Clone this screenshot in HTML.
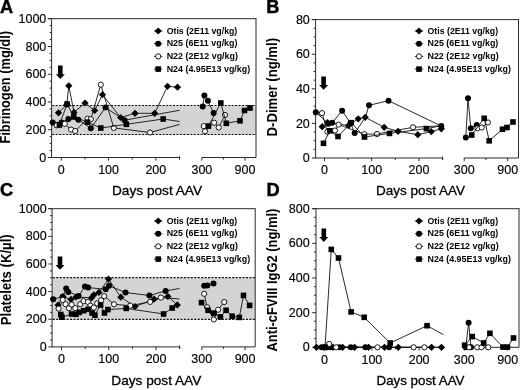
<!DOCTYPE html>
<html><head><meta charset="utf-8"><style>
html,body{margin:0;padding:0;background:#fff;overflow:hidden;width:520px;height:390px;}
svg{display:block;filter:blur(0.3px);font-family:"Liberation Sans", sans-serif;}
</style></head><body>
<svg width="520" height="390" viewBox="0 0 520 390">
<rect width="520" height="390" fill="#fff"/>
<rect x="51.60" y="105.50" width="204.40" height="29.00" fill="#d4d4d4"/>
<line x1="51.60" y1="105.50" x2="256.00" y2="105.50" stroke="#111" stroke-width="1.2" stroke-dasharray="2.1,1.35" stroke-dashoffset="2.8"/>
<line x1="51.60" y1="134.50" x2="256.00" y2="134.50" stroke="#111" stroke-width="1.2" stroke-dasharray="2.1,1.35" stroke-dashoffset="2.8"/>
<line x1="47.80" y1="18.70" x2="256.50" y2="18.70" stroke="#2a2a2a" stroke-width="1" />
<line x1="256.00" y1="18.70" x2="256.00" y2="157.50" stroke="#2a2a2a" stroke-width="1" />
<line x1="51.60" y1="18.70" x2="51.60" y2="158.00" stroke="#2a2a2a" stroke-width="1" />
<line x1="47.80" y1="157.50" x2="51.60" y2="157.50" stroke="#2a2a2a" stroke-width="1" />
<text x="46.30" y="161.60" font-size="12.5" text-anchor="end" font-weight="normal" stroke="#000" stroke-width="0.15">0</text>
<line x1="49.60" y1="150.56" x2="51.60" y2="150.56" stroke="#2a2a2a" stroke-width="1" />
<line x1="49.60" y1="143.62" x2="51.60" y2="143.62" stroke="#2a2a2a" stroke-width="1" />
<line x1="49.60" y1="136.68" x2="51.60" y2="136.68" stroke="#2a2a2a" stroke-width="1" />
<line x1="47.80" y1="129.74" x2="51.60" y2="129.74" stroke="#2a2a2a" stroke-width="1" />
<text x="46.30" y="133.84" font-size="12.5" text-anchor="end" font-weight="normal" stroke="#000" stroke-width="0.15">200</text>
<line x1="49.60" y1="122.80" x2="51.60" y2="122.80" stroke="#2a2a2a" stroke-width="1" />
<line x1="49.60" y1="115.86" x2="51.60" y2="115.86" stroke="#2a2a2a" stroke-width="1" />
<line x1="49.60" y1="108.92" x2="51.60" y2="108.92" stroke="#2a2a2a" stroke-width="1" />
<line x1="47.80" y1="101.98" x2="51.60" y2="101.98" stroke="#2a2a2a" stroke-width="1" />
<text x="46.30" y="106.08" font-size="12.5" text-anchor="end" font-weight="normal" stroke="#000" stroke-width="0.15">400</text>
<line x1="49.60" y1="95.04" x2="51.60" y2="95.04" stroke="#2a2a2a" stroke-width="1" />
<line x1="49.60" y1="88.10" x2="51.60" y2="88.10" stroke="#2a2a2a" stroke-width="1" />
<line x1="49.60" y1="81.16" x2="51.60" y2="81.16" stroke="#2a2a2a" stroke-width="1" />
<line x1="47.80" y1="74.22" x2="51.60" y2="74.22" stroke="#2a2a2a" stroke-width="1" />
<text x="46.30" y="78.32" font-size="12.5" text-anchor="end" font-weight="normal" stroke="#000" stroke-width="0.15">600</text>
<line x1="49.60" y1="67.28" x2="51.60" y2="67.28" stroke="#2a2a2a" stroke-width="1" />
<line x1="49.60" y1="60.34" x2="51.60" y2="60.34" stroke="#2a2a2a" stroke-width="1" />
<line x1="49.60" y1="53.40" x2="51.60" y2="53.40" stroke="#2a2a2a" stroke-width="1" />
<line x1="47.80" y1="46.46" x2="51.60" y2="46.46" stroke="#2a2a2a" stroke-width="1" />
<text x="46.30" y="50.56" font-size="12.5" text-anchor="end" font-weight="normal" stroke="#000" stroke-width="0.15">800</text>
<line x1="49.60" y1="39.52" x2="51.60" y2="39.52" stroke="#2a2a2a" stroke-width="1" />
<line x1="49.60" y1="32.58" x2="51.60" y2="32.58" stroke="#2a2a2a" stroke-width="1" />
<line x1="49.60" y1="25.64" x2="51.60" y2="25.64" stroke="#2a2a2a" stroke-width="1" />
<line x1="47.80" y1="18.70" x2="51.60" y2="18.70" stroke="#2a2a2a" stroke-width="1" />
<text x="46.30" y="22.80" font-size="12.5" text-anchor="end" font-weight="normal" stroke="#000" stroke-width="0.15">1000</text>
<line x1="51.60" y1="157.50" x2="179.60" y2="157.50" stroke="#2a2a2a" stroke-width="1" />
<line x1="201.90" y1="157.50" x2="256.00" y2="157.50" stroke="#2a2a2a" stroke-width="1" />
<line x1="61.30" y1="157.50" x2="61.30" y2="160.70" stroke="#2a2a2a" stroke-width="1" />
<text x="61.30" y="173.90" font-size="12.5" text-anchor="middle" font-weight="normal" stroke="#000" stroke-width="0.15">0</text>
<line x1="84.94" y1="157.50" x2="84.94" y2="159.50" stroke="#2a2a2a" stroke-width="1" />
<line x1="108.58" y1="157.50" x2="108.58" y2="160.70" stroke="#2a2a2a" stroke-width="1" />
<text x="108.58" y="173.90" font-size="12.5" text-anchor="middle" font-weight="normal" stroke="#000" stroke-width="0.15">100</text>
<line x1="132.22" y1="157.50" x2="132.22" y2="159.50" stroke="#2a2a2a" stroke-width="1" />
<line x1="155.86" y1="157.50" x2="155.86" y2="160.70" stroke="#2a2a2a" stroke-width="1" />
<text x="155.86" y="173.90" font-size="12.5" text-anchor="middle" font-weight="normal" stroke="#000" stroke-width="0.15">200</text>
<line x1="179.50" y1="157.50" x2="179.50" y2="159.50" stroke="#2a2a2a" stroke-width="1" />
<line x1="179.60" y1="156.10" x2="179.60" y2="159.50" stroke="#2a2a2a" stroke-width="1" />
<line x1="201.90" y1="157.50" x2="201.90" y2="160.70" stroke="#2a2a2a" stroke-width="1" />
<text x="201.90" y="173.90" font-size="12.5" text-anchor="middle" font-weight="normal" stroke="#000" stroke-width="0.15">300</text>
<line x1="223.45" y1="157.50" x2="223.45" y2="159.50" stroke="#2a2a2a" stroke-width="1" />
<line x1="245.00" y1="157.50" x2="245.00" y2="160.70" stroke="#2a2a2a" stroke-width="1" />
<text x="245.00" y="173.90" font-size="12.5" text-anchor="middle" font-weight="normal" stroke="#000" stroke-width="0.15">900</text>
<text x="112.00" y="194.90" font-size="13.5" text-anchor="start" font-weight="normal" textLength="90" lengthAdjust="spacingAndGlyphs" stroke="#000" stroke-width="0.3">Days post AAV</text>
<text transform="translate(10.30,143.60) rotate(-90)" font-size="14" font-weight="bold" textLength="112.60" lengthAdjust="spacingAndGlyphs">Fibrinogen (mg/dl)</text>
<text x="0.00" y="12.70" font-size="18.2" text-anchor="start" font-weight="bold" stroke="#000" stroke-width="0.45">A</text>
<path d="M58.00,65.60 h4.6 v8.6 h2.2 l-4.5,4.8 l-4.5,-4.8 h2.2 z" fill="#000"/>
<line x1="154.00" y1="31.00" x2="162.40" y2="31.00" stroke="#000" stroke-width="0.8" />
<path d="M158.20,27.40 L161.80,31.00 L158.20,34.60 L154.60,31.00 Z" fill="#000"/>
<text x="166.70" y="33.50" font-size="9.8" text-anchor="start" font-weight="bold" textLength="70.6" lengthAdjust="spacingAndGlyphs">Otis (2E11 vg/kg)</text>
<line x1="154.00" y1="43.70" x2="162.40" y2="43.70" stroke="#000" stroke-width="0.8" />
<circle cx="158.20" cy="43.70" r="3.00" fill="#000"/>
<text x="166.70" y="46.20" font-size="9.8" text-anchor="start" font-weight="bold" textLength="70.8" lengthAdjust="spacingAndGlyphs">N25 (6E11 vg/kg)</text>
<line x1="154.00" y1="56.40" x2="162.40" y2="56.40" stroke="#000" stroke-width="0.8" />
<circle cx="158.20" cy="56.40" r="2.60" fill="#fff" stroke="#000" stroke-width="0.9"/>
<text x="166.70" y="58.90" font-size="9.8" text-anchor="start" font-weight="bold" textLength="71.2" lengthAdjust="spacingAndGlyphs">N22 (2E12 vg/kg)</text>
<line x1="154.00" y1="69.10" x2="162.40" y2="69.10" stroke="#000" stroke-width="0.8" />
<rect x="155.40" y="66.30" width="5.60" height="5.60" fill="#000"/>
<text x="166.70" y="71.60" font-size="9.8" text-anchor="start" font-weight="bold" textLength="83.4" lengthAdjust="spacingAndGlyphs">N24 (4.95E13 vg/kg)</text>
<polyline points="58.50,112.80 66.80,104.50 68.80,85.80 74.00,112.40 85.00,103.00 94.70,110.50 102.50,94.70 120.60,117.50 135.00,113.30 154.70,113.30 167.50,86.30 177.50,87.20" fill="none" stroke="#111" stroke-width="0.9"/>
<path d="M58.50,109.20 L62.10,112.80 L58.50,116.40 L54.90,112.80 Z" fill="#000"/>
<path d="M66.80,100.90 L70.40,104.50 L66.80,108.10 L63.20,104.50 Z" fill="#000"/>
<path d="M68.80,82.20 L72.40,85.80 L68.80,89.40 L65.20,85.80 Z" fill="#000"/>
<path d="M74.00,108.80 L77.60,112.40 L74.00,116.00 L70.40,112.40 Z" fill="#000"/>
<path d="M85.00,99.40 L88.60,103.00 L85.00,106.60 L81.40,103.00 Z" fill="#000"/>
<path d="M94.70,106.90 L98.30,110.50 L94.70,114.10 L91.10,110.50 Z" fill="#000"/>
<path d="M102.50,91.10 L106.10,94.70 L102.50,98.30 L98.90,94.70 Z" fill="#000"/>
<path d="M120.60,113.90 L124.20,117.50 L120.60,121.10 L117.00,117.50 Z" fill="#000"/>
<path d="M135.00,109.70 L138.60,113.30 L135.00,116.90 L131.40,113.30 Z" fill="#000"/>
<path d="M154.70,109.70 L158.30,113.30 L154.70,116.90 L151.10,113.30 Z" fill="#000"/>
<path d="M167.50,82.70 L171.10,86.30 L167.50,89.90 L163.90,86.30 Z" fill="#000"/>
<path d="M177.50,83.60 L181.10,87.20 L177.50,90.80 L173.90,87.20 Z" fill="#000"/>
<polyline points="52.70,122.50 61.50,122.50 68.40,118.90 78.30,119.70 90.80,128.30 105.50,107.50 124.60,120.20 179.60,110.30" fill="none" stroke="#111" stroke-width="0.9"/>
<polyline points="202.70,106.50 204.40,95.60 207.90,100.80 213.60,112.90" fill="none" stroke="#111" stroke-width="0.9"/>
<circle cx="52.70" cy="122.50" r="3.00" fill="#000"/>
<circle cx="61.50" cy="122.50" r="3.00" fill="#000"/>
<circle cx="68.40" cy="118.90" r="3.00" fill="#000"/>
<circle cx="78.30" cy="119.70" r="3.00" fill="#000"/>
<circle cx="90.80" cy="128.30" r="3.00" fill="#000"/>
<circle cx="105.50" cy="107.50" r="3.00" fill="#000"/>
<circle cx="124.60" cy="120.20" r="3.00" fill="#000"/>
<circle cx="202.70" cy="106.50" r="3.00" fill="#000"/>
<circle cx="204.40" cy="95.60" r="3.00" fill="#000"/>
<circle cx="207.90" cy="100.80" r="3.00" fill="#000"/>
<circle cx="213.60" cy="112.90" r="3.00" fill="#000"/>
<polyline points="56.70,125.30 64.80,123.80 71.10,129.60 75.20,131.00 87.50,118.70 90.80,119.20 100.80,84.70 113.80,127.90 150.00,132.50 179.60,124.40" fill="none" stroke="#111" stroke-width="0.9"/>
<polyline points="203.80,126.10 205.00,131.30 214.20,122.70 218.70,127.50 225.00,115.00" fill="none" stroke="#111" stroke-width="0.9"/>
<circle cx="56.70" cy="125.30" r="2.60" fill="#fff" stroke="#000" stroke-width="0.9"/>
<circle cx="64.80" cy="123.80" r="2.60" fill="#fff" stroke="#000" stroke-width="0.9"/>
<circle cx="71.10" cy="129.60" r="2.60" fill="#fff" stroke="#000" stroke-width="0.9"/>
<circle cx="75.20" cy="131.00" r="2.60" fill="#fff" stroke="#000" stroke-width="0.9"/>
<circle cx="87.50" cy="118.70" r="2.60" fill="#fff" stroke="#000" stroke-width="0.9"/>
<circle cx="90.80" cy="119.20" r="2.60" fill="#fff" stroke="#000" stroke-width="0.9"/>
<circle cx="100.80" cy="84.70" r="2.60" fill="#fff" stroke="#000" stroke-width="0.9"/>
<circle cx="113.80" cy="127.90" r="2.60" fill="#fff" stroke="#000" stroke-width="0.9"/>
<circle cx="150.00" cy="132.50" r="2.60" fill="#fff" stroke="#000" stroke-width="0.9"/>
<circle cx="203.80" cy="126.10" r="2.60" fill="#fff" stroke="#000" stroke-width="0.9"/>
<circle cx="205.00" cy="131.30" r="2.60" fill="#fff" stroke="#000" stroke-width="0.9"/>
<circle cx="214.20" cy="122.70" r="2.60" fill="#fff" stroke="#000" stroke-width="0.9"/>
<circle cx="218.70" cy="127.50" r="2.60" fill="#fff" stroke="#000" stroke-width="0.9"/>
<circle cx="225.00" cy="115.00" r="2.60" fill="#fff" stroke="#000" stroke-width="0.9"/>
<polyline points="59.40,125.00 67.10,104.00 73.80,116.60 87.50,122.20 100.80,128.00 126.40,124.30 163.20,119.00 179.60,121.50" fill="none" stroke="#111" stroke-width="0.9"/>
<polyline points="208.40,126.10 220.80,103.00 226.30,123.30 240.00,120.80 244.50,110.50 250.00,108.00" fill="none" stroke="#111" stroke-width="0.9"/>
<rect x="56.60" y="122.20" width="5.60" height="5.60" fill="#000"/>
<rect x="64.30" y="101.20" width="5.60" height="5.60" fill="#000"/>
<rect x="71.00" y="113.80" width="5.60" height="5.60" fill="#000"/>
<rect x="84.70" y="119.40" width="5.60" height="5.60" fill="#000"/>
<rect x="98.00" y="125.20" width="5.60" height="5.60" fill="#000"/>
<rect x="123.60" y="121.50" width="5.60" height="5.60" fill="#000"/>
<rect x="160.40" y="116.20" width="5.60" height="5.60" fill="#000"/>
<rect x="205.60" y="123.30" width="5.60" height="5.60" fill="#000"/>
<rect x="218.00" y="100.20" width="5.60" height="5.60" fill="#000"/>
<rect x="223.50" y="120.50" width="5.60" height="5.60" fill="#000"/>
<rect x="237.20" y="118.00" width="5.60" height="5.60" fill="#000"/>
<rect x="241.70" y="107.70" width="5.60" height="5.60" fill="#000"/>
<rect x="247.20" y="105.20" width="5.60" height="5.60" fill="#000"/>
<line x1="311.80" y1="19.60" x2="519.00" y2="19.60" stroke="#2a2a2a" stroke-width="1" />
<line x1="518.50" y1="19.60" x2="518.50" y2="158.00" stroke="#2a2a2a" stroke-width="1" />
<line x1="315.60" y1="19.60" x2="315.60" y2="158.50" stroke="#2a2a2a" stroke-width="1" />
<line x1="311.80" y1="158.00" x2="315.60" y2="158.00" stroke="#2a2a2a" stroke-width="1" />
<text x="309.80" y="162.10" font-size="12.5" text-anchor="end" font-weight="normal" stroke="#000" stroke-width="0.15">0</text>
<line x1="313.60" y1="149.35" x2="315.60" y2="149.35" stroke="#2a2a2a" stroke-width="1" />
<line x1="313.60" y1="140.70" x2="315.60" y2="140.70" stroke="#2a2a2a" stroke-width="1" />
<line x1="313.60" y1="132.05" x2="315.60" y2="132.05" stroke="#2a2a2a" stroke-width="1" />
<line x1="311.80" y1="123.40" x2="315.60" y2="123.40" stroke="#2a2a2a" stroke-width="1" />
<text x="309.80" y="127.50" font-size="12.5" text-anchor="end" font-weight="normal" stroke="#000" stroke-width="0.15">20</text>
<line x1="313.60" y1="114.75" x2="315.60" y2="114.75" stroke="#2a2a2a" stroke-width="1" />
<line x1="313.60" y1="106.10" x2="315.60" y2="106.10" stroke="#2a2a2a" stroke-width="1" />
<line x1="313.60" y1="97.45" x2="315.60" y2="97.45" stroke="#2a2a2a" stroke-width="1" />
<line x1="311.80" y1="88.80" x2="315.60" y2="88.80" stroke="#2a2a2a" stroke-width="1" />
<text x="309.80" y="92.90" font-size="12.5" text-anchor="end" font-weight="normal" stroke="#000" stroke-width="0.15">40</text>
<line x1="313.60" y1="80.15" x2="315.60" y2="80.15" stroke="#2a2a2a" stroke-width="1" />
<line x1="313.60" y1="71.50" x2="315.60" y2="71.50" stroke="#2a2a2a" stroke-width="1" />
<line x1="313.60" y1="62.85" x2="315.60" y2="62.85" stroke="#2a2a2a" stroke-width="1" />
<line x1="311.80" y1="54.20" x2="315.60" y2="54.20" stroke="#2a2a2a" stroke-width="1" />
<text x="309.80" y="58.30" font-size="12.5" text-anchor="end" font-weight="normal" stroke="#000" stroke-width="0.15">60</text>
<line x1="313.60" y1="45.55" x2="315.60" y2="45.55" stroke="#2a2a2a" stroke-width="1" />
<line x1="313.60" y1="36.90" x2="315.60" y2="36.90" stroke="#2a2a2a" stroke-width="1" />
<line x1="313.60" y1="28.25" x2="315.60" y2="28.25" stroke="#2a2a2a" stroke-width="1" />
<line x1="311.80" y1="19.60" x2="315.60" y2="19.60" stroke="#2a2a2a" stroke-width="1" />
<text x="309.80" y="23.70" font-size="12.5" text-anchor="end" font-weight="normal" stroke="#000" stroke-width="0.15">80</text>
<line x1="315.60" y1="158.00" x2="442.60" y2="158.00" stroke="#2a2a2a" stroke-width="1" />
<line x1="464.20" y1="158.00" x2="518.50" y2="158.00" stroke="#2a2a2a" stroke-width="1" />
<line x1="324.40" y1="158.00" x2="324.40" y2="161.20" stroke="#2a2a2a" stroke-width="1" />
<text x="324.40" y="174.40" font-size="12.5" text-anchor="middle" font-weight="normal" stroke="#000" stroke-width="0.15">0</text>
<line x1="348.04" y1="158.00" x2="348.04" y2="160.00" stroke="#2a2a2a" stroke-width="1" />
<line x1="371.68" y1="158.00" x2="371.68" y2="161.20" stroke="#2a2a2a" stroke-width="1" />
<text x="371.68" y="174.40" font-size="12.5" text-anchor="middle" font-weight="normal" stroke="#000" stroke-width="0.15">100</text>
<line x1="395.32" y1="158.00" x2="395.32" y2="160.00" stroke="#2a2a2a" stroke-width="1" />
<line x1="418.96" y1="158.00" x2="418.96" y2="161.20" stroke="#2a2a2a" stroke-width="1" />
<text x="418.96" y="174.40" font-size="12.5" text-anchor="middle" font-weight="normal" stroke="#000" stroke-width="0.15">200</text>
<line x1="442.60" y1="158.00" x2="442.60" y2="160.00" stroke="#2a2a2a" stroke-width="1" />
<line x1="442.60" y1="156.60" x2="442.60" y2="160.00" stroke="#2a2a2a" stroke-width="1" />
<line x1="464.20" y1="158.00" x2="464.20" y2="161.20" stroke="#2a2a2a" stroke-width="1" />
<text x="464.20" y="174.40" font-size="12.5" text-anchor="middle" font-weight="normal" stroke="#000" stroke-width="0.15">300</text>
<line x1="485.95" y1="158.00" x2="485.95" y2="160.00" stroke="#2a2a2a" stroke-width="1" />
<line x1="507.70" y1="158.00" x2="507.70" y2="161.20" stroke="#2a2a2a" stroke-width="1" />
<text x="507.70" y="174.40" font-size="12.5" text-anchor="middle" font-weight="normal" stroke="#000" stroke-width="0.15">900</text>
<text x="376.00" y="194.90" font-size="13.5" text-anchor="start" font-weight="normal" textLength="89" lengthAdjust="spacingAndGlyphs" stroke="#000" stroke-width="0.3">Days post AAV</text>
<text transform="translate(277.00,136.40) rotate(-90)" font-size="14" font-weight="bold" textLength="98.40" lengthAdjust="spacingAndGlyphs">D-Dimer (ng/ml)</text>
<text x="266.20" y="12.70" font-size="18.2" text-anchor="start" font-weight="bold" stroke="#000" stroke-width="0.45">B</text>
<path d="M321.30,76.40 h4.6 v8.6 h2.2 l-4.5,4.8 l-4.5,-4.8 h2.2 z" fill="#000"/>
<line x1="414.80" y1="31.00" x2="423.20" y2="31.00" stroke="#000" stroke-width="0.8" />
<path d="M419.00,27.40 L422.60,31.00 L419.00,34.60 L415.40,31.00 Z" fill="#000"/>
<text x="427.50" y="33.50" font-size="9.8" text-anchor="start" font-weight="bold" textLength="70.6" lengthAdjust="spacingAndGlyphs">Otis (2E11 vg/kg)</text>
<line x1="414.80" y1="43.70" x2="423.20" y2="43.70" stroke="#000" stroke-width="0.8" />
<circle cx="419.00" cy="43.70" r="3.00" fill="#000"/>
<text x="427.50" y="46.20" font-size="9.8" text-anchor="start" font-weight="bold" textLength="70.8" lengthAdjust="spacingAndGlyphs">N25 (6E11 vg/kg)</text>
<line x1="414.80" y1="56.40" x2="423.20" y2="56.40" stroke="#000" stroke-width="0.8" />
<circle cx="419.00" cy="56.40" r="2.60" fill="#fff" stroke="#000" stroke-width="0.9"/>
<text x="427.50" y="58.90" font-size="9.8" text-anchor="start" font-weight="bold" textLength="71.2" lengthAdjust="spacingAndGlyphs">N22 (2E12 vg/kg)</text>
<line x1="414.80" y1="69.10" x2="423.20" y2="69.10" stroke="#000" stroke-width="0.8" />
<rect x="416.20" y="66.30" width="5.60" height="5.60" fill="#000"/>
<text x="427.50" y="71.60" font-size="9.8" text-anchor="start" font-weight="bold" textLength="83.4" lengthAdjust="spacingAndGlyphs">N24 (4.95E13 vg/kg)</text>
<polyline points="322.20,126.70 327.50,122.50 348.60,125.50 358.20,118.80 365.20,117.30 384.20,127.30 398.10,131.30 417.80,134.70 431.30,131.60 441.30,128.80" fill="none" stroke="#111" stroke-width="0.9"/>
<path d="M322.20,123.10 L325.80,126.70 L322.20,130.30 L318.60,126.70 Z" fill="#000"/>
<path d="M327.50,118.90 L331.10,122.50 L327.50,126.10 L323.90,122.50 Z" fill="#000"/>
<path d="M348.60,121.90 L352.20,125.50 L348.60,129.10 L345.00,125.50 Z" fill="#000"/>
<path d="M358.20,115.20 L361.80,118.80 L358.20,122.40 L354.60,118.80 Z" fill="#000"/>
<path d="M365.20,113.70 L368.80,117.30 L365.20,120.90 L361.60,117.30 Z" fill="#000"/>
<path d="M384.20,123.70 L387.80,127.30 L384.20,130.90 L380.60,127.30 Z" fill="#000"/>
<path d="M398.10,127.70 L401.70,131.30 L398.10,134.90 L394.50,131.30 Z" fill="#000"/>
<path d="M417.80,131.10 L421.40,134.70 L417.80,138.30 L414.20,134.70 Z" fill="#000"/>
<path d="M431.30,128.00 L434.90,131.60 L431.30,135.20 L427.70,131.60 Z" fill="#000"/>
<path d="M441.30,125.20 L444.90,128.80 L441.30,132.40 L437.70,128.80 Z" fill="#000"/>
<polyline points="315.80,112.20 328.40,123.70 332.20,122.80 342.10,110.70 350.50,123.20 354.70,133.00 365.30,117.60 369.00,105.30 388.50,100.70 441.30,126.00" fill="none" stroke="#111" stroke-width="0.9"/>
<polyline points="465.80,137.50 468.00,98.30 470.80,128.30 476.70,125.00" fill="none" stroke="#111" stroke-width="0.9"/>
<circle cx="315.80" cy="112.20" r="3.00" fill="#000"/>
<circle cx="328.40" cy="123.70" r="3.00" fill="#000"/>
<circle cx="332.20" cy="122.80" r="3.00" fill="#000"/>
<circle cx="342.10" cy="110.70" r="3.00" fill="#000"/>
<circle cx="350.50" cy="123.20" r="3.00" fill="#000"/>
<circle cx="354.70" cy="133.00" r="3.00" fill="#000"/>
<circle cx="369.00" cy="105.30" r="3.00" fill="#000"/>
<circle cx="388.50" cy="100.70" r="3.00" fill="#000"/>
<circle cx="441.30" cy="126.00" r="3.00" fill="#000"/>
<circle cx="465.80" cy="137.50" r="3.00" fill="#000"/>
<circle cx="468.00" cy="98.30" r="3.00" fill="#000"/>
<circle cx="470.80" cy="128.30" r="3.00" fill="#000"/>
<circle cx="476.70" cy="125.00" r="3.00" fill="#000"/>
<polyline points="322.00,113.10 327.40,131.80 335.00,130.50 338.60,124.60 364.30,134.20 377.00,134.00 413.00,127.30 441.30,125.80" fill="none" stroke="#111" stroke-width="0.9"/>
<polyline points="477.50,128.30 481.70,127.50 488.00,122.50" fill="none" stroke="#111" stroke-width="0.9"/>
<circle cx="322.00" cy="113.10" r="2.60" fill="#fff" stroke="#000" stroke-width="0.9"/>
<circle cx="327.40" cy="131.80" r="2.60" fill="#fff" stroke="#000" stroke-width="0.9"/>
<circle cx="335.00" cy="130.50" r="2.60" fill="#fff" stroke="#000" stroke-width="0.9"/>
<circle cx="338.60" cy="124.60" r="2.60" fill="#fff" stroke="#000" stroke-width="0.9"/>
<circle cx="364.30" cy="134.20" r="2.60" fill="#fff" stroke="#000" stroke-width="0.9"/>
<circle cx="377.00" cy="134.00" r="2.60" fill="#fff" stroke="#000" stroke-width="0.9"/>
<circle cx="413.00" cy="127.30" r="2.60" fill="#fff" stroke="#000" stroke-width="0.9"/>
<circle cx="477.50" cy="128.30" r="2.60" fill="#fff" stroke="#000" stroke-width="0.9"/>
<circle cx="481.70" cy="127.50" r="2.60" fill="#fff" stroke="#000" stroke-width="0.9"/>
<circle cx="488.00" cy="122.50" r="2.60" fill="#fff" stroke="#000" stroke-width="0.9"/>
<polyline points="323.50,143.30 329.90,130.80 338.00,136.50 351.20,122.70 364.50,137.00 389.50,133.40 426.40,128.60 441.30,125.80" fill="none" stroke="#111" stroke-width="0.9"/>
<polyline points="471.70,135.00 484.20,118.30 489.20,140.80 502.50,129.20 507.00,127.50 513.00,122.00" fill="none" stroke="#111" stroke-width="0.9"/>
<rect x="320.70" y="140.50" width="5.60" height="5.60" fill="#000"/>
<rect x="327.10" y="128.00" width="5.60" height="5.60" fill="#000"/>
<rect x="335.20" y="133.70" width="5.60" height="5.60" fill="#000"/>
<rect x="348.40" y="119.90" width="5.60" height="5.60" fill="#000"/>
<rect x="361.70" y="134.20" width="5.60" height="5.60" fill="#000"/>
<rect x="386.70" y="130.60" width="5.60" height="5.60" fill="#000"/>
<rect x="423.60" y="125.80" width="5.60" height="5.60" fill="#000"/>
<rect x="468.90" y="132.20" width="5.60" height="5.60" fill="#000"/>
<rect x="481.40" y="115.50" width="5.60" height="5.60" fill="#000"/>
<rect x="486.40" y="138.00" width="5.60" height="5.60" fill="#000"/>
<rect x="499.70" y="126.40" width="5.60" height="5.60" fill="#000"/>
<rect x="504.20" y="124.70" width="5.60" height="5.60" fill="#000"/>
<rect x="510.20" y="119.20" width="5.60" height="5.60" fill="#000"/>
<rect x="52.10" y="277.60" width="203.10" height="41.80" fill="#d4d4d4"/>
<line x1="52.10" y1="277.60" x2="255.20" y2="277.60" stroke="#111" stroke-width="1.2" stroke-dasharray="2.1,1.35" stroke-dashoffset="2.8"/>
<line x1="52.10" y1="319.40" x2="255.20" y2="319.40" stroke="#111" stroke-width="1.2" stroke-dasharray="2.1,1.35" stroke-dashoffset="2.8"/>
<line x1="48.30" y1="208.70" x2="255.70" y2="208.70" stroke="#2a2a2a" stroke-width="1" />
<line x1="255.20" y1="208.70" x2="255.20" y2="346.90" stroke="#2a2a2a" stroke-width="1" />
<line x1="52.10" y1="208.70" x2="52.10" y2="347.40" stroke="#2a2a2a" stroke-width="1" />
<line x1="48.30" y1="346.90" x2="52.10" y2="346.90" stroke="#2a2a2a" stroke-width="1" />
<text x="46.60" y="351.00" font-size="12.5" text-anchor="end" font-weight="normal" stroke="#000" stroke-width="0.15">0</text>
<line x1="50.10" y1="339.99" x2="52.10" y2="339.99" stroke="#2a2a2a" stroke-width="1" />
<line x1="50.10" y1="333.08" x2="52.10" y2="333.08" stroke="#2a2a2a" stroke-width="1" />
<line x1="50.10" y1="326.17" x2="52.10" y2="326.17" stroke="#2a2a2a" stroke-width="1" />
<line x1="48.30" y1="319.26" x2="52.10" y2="319.26" stroke="#2a2a2a" stroke-width="1" />
<text x="46.60" y="323.36" font-size="12.5" text-anchor="end" font-weight="normal" stroke="#000" stroke-width="0.15">200</text>
<line x1="50.10" y1="312.35" x2="52.10" y2="312.35" stroke="#2a2a2a" stroke-width="1" />
<line x1="50.10" y1="305.44" x2="52.10" y2="305.44" stroke="#2a2a2a" stroke-width="1" />
<line x1="50.10" y1="298.53" x2="52.10" y2="298.53" stroke="#2a2a2a" stroke-width="1" />
<line x1="48.30" y1="291.62" x2="52.10" y2="291.62" stroke="#2a2a2a" stroke-width="1" />
<text x="46.60" y="295.72" font-size="12.5" text-anchor="end" font-weight="normal" stroke="#000" stroke-width="0.15">400</text>
<line x1="50.10" y1="284.71" x2="52.10" y2="284.71" stroke="#2a2a2a" stroke-width="1" />
<line x1="50.10" y1="277.80" x2="52.10" y2="277.80" stroke="#2a2a2a" stroke-width="1" />
<line x1="50.10" y1="270.89" x2="52.10" y2="270.89" stroke="#2a2a2a" stroke-width="1" />
<line x1="48.30" y1="263.98" x2="52.10" y2="263.98" stroke="#2a2a2a" stroke-width="1" />
<text x="46.60" y="268.08" font-size="12.5" text-anchor="end" font-weight="normal" stroke="#000" stroke-width="0.15">600</text>
<line x1="50.10" y1="257.07" x2="52.10" y2="257.07" stroke="#2a2a2a" stroke-width="1" />
<line x1="50.10" y1="250.16" x2="52.10" y2="250.16" stroke="#2a2a2a" stroke-width="1" />
<line x1="50.10" y1="243.25" x2="52.10" y2="243.25" stroke="#2a2a2a" stroke-width="1" />
<line x1="48.30" y1="236.34" x2="52.10" y2="236.34" stroke="#2a2a2a" stroke-width="1" />
<text x="46.60" y="240.44" font-size="12.5" text-anchor="end" font-weight="normal" stroke="#000" stroke-width="0.15">800</text>
<line x1="50.10" y1="229.43" x2="52.10" y2="229.43" stroke="#2a2a2a" stroke-width="1" />
<line x1="50.10" y1="222.52" x2="52.10" y2="222.52" stroke="#2a2a2a" stroke-width="1" />
<line x1="50.10" y1="215.61" x2="52.10" y2="215.61" stroke="#2a2a2a" stroke-width="1" />
<line x1="48.30" y1="208.70" x2="52.10" y2="208.70" stroke="#2a2a2a" stroke-width="1" />
<text x="46.60" y="212.80" font-size="12.5" text-anchor="end" font-weight="normal" stroke="#000" stroke-width="0.15">1000</text>
<line x1="52.10" y1="346.90" x2="179.50" y2="346.90" stroke="#2a2a2a" stroke-width="1" />
<line x1="201.80" y1="346.90" x2="255.20" y2="346.90" stroke="#2a2a2a" stroke-width="1" />
<line x1="61.50" y1="346.90" x2="61.50" y2="350.10" stroke="#2a2a2a" stroke-width="1" />
<text x="61.50" y="363.30" font-size="12.5" text-anchor="middle" font-weight="normal" stroke="#000" stroke-width="0.15">0</text>
<line x1="85.14" y1="346.90" x2="85.14" y2="348.90" stroke="#2a2a2a" stroke-width="1" />
<line x1="108.78" y1="346.90" x2="108.78" y2="350.10" stroke="#2a2a2a" stroke-width="1" />
<text x="108.78" y="363.30" font-size="12.5" text-anchor="middle" font-weight="normal" stroke="#000" stroke-width="0.15">100</text>
<line x1="132.42" y1="346.90" x2="132.42" y2="348.90" stroke="#2a2a2a" stroke-width="1" />
<line x1="156.06" y1="346.90" x2="156.06" y2="350.10" stroke="#2a2a2a" stroke-width="1" />
<text x="156.06" y="363.30" font-size="12.5" text-anchor="middle" font-weight="normal" stroke="#000" stroke-width="0.15">200</text>
<line x1="179.70" y1="346.90" x2="179.70" y2="348.90" stroke="#2a2a2a" stroke-width="1" />
<line x1="179.50" y1="345.50" x2="179.50" y2="348.90" stroke="#2a2a2a" stroke-width="1" />
<line x1="201.80" y1="346.90" x2="201.80" y2="350.10" stroke="#2a2a2a" stroke-width="1" />
<text x="201.80" y="363.30" font-size="12.5" text-anchor="middle" font-weight="normal" stroke="#000" stroke-width="0.15">300</text>
<line x1="223.45" y1="346.90" x2="223.45" y2="348.90" stroke="#2a2a2a" stroke-width="1" />
<line x1="245.10" y1="346.90" x2="245.10" y2="350.10" stroke="#2a2a2a" stroke-width="1" />
<text x="245.10" y="363.30" font-size="12.5" text-anchor="middle" font-weight="normal" stroke="#000" stroke-width="0.15">900</text>
<text x="111.30" y="385.10" font-size="13.5" text-anchor="start" font-weight="normal" textLength="90" lengthAdjust="spacingAndGlyphs" stroke="#000" stroke-width="0.3">Days post AAV</text>
<text transform="translate(10.50,325.20) rotate(-90)" font-size="14" font-weight="bold" textLength="90.90" lengthAdjust="spacingAndGlyphs">Platelets (K/µl)</text>
<text x="0.00" y="195.60" font-size="18.2" text-anchor="start" font-weight="bold" stroke="#000" stroke-width="0.45">C</text>
<path d="M57.70,256.40 h4.6 v8.6 h2.2 l-4.5,4.8 l-4.5,-4.8 h2.2 z" fill="#000"/>
<line x1="154.00" y1="221.00" x2="162.40" y2="221.00" stroke="#000" stroke-width="0.8" />
<path d="M158.20,217.40 L161.80,221.00 L158.20,224.60 L154.60,221.00 Z" fill="#000"/>
<text x="166.70" y="223.50" font-size="9.8" text-anchor="start" font-weight="bold" textLength="70.6" lengthAdjust="spacingAndGlyphs">Otis (2E11 vg/kg)</text>
<line x1="154.00" y1="233.70" x2="162.40" y2="233.70" stroke="#000" stroke-width="0.8" />
<circle cx="158.20" cy="233.70" r="3.00" fill="#000"/>
<text x="166.70" y="236.20" font-size="9.8" text-anchor="start" font-weight="bold" textLength="70.8" lengthAdjust="spacingAndGlyphs">N25 (6E11 vg/kg)</text>
<line x1="154.00" y1="246.40" x2="162.40" y2="246.40" stroke="#000" stroke-width="0.8" />
<circle cx="158.20" cy="246.40" r="2.60" fill="#fff" stroke="#000" stroke-width="0.9"/>
<text x="166.70" y="248.90" font-size="9.8" text-anchor="start" font-weight="bold" textLength="71.2" lengthAdjust="spacingAndGlyphs">N22 (2E12 vg/kg)</text>
<line x1="154.00" y1="259.10" x2="162.40" y2="259.10" stroke="#000" stroke-width="0.8" />
<rect x="155.40" y="256.30" width="5.60" height="5.60" fill="#000"/>
<text x="166.70" y="261.60" font-size="9.8" text-anchor="start" font-weight="bold" textLength="83.4" lengthAdjust="spacingAndGlyphs">N24 (4.95E13 vg/kg)</text>
<polyline points="58.10,305.00 62.90,296.70 71.00,299.40 76.00,297.00 91.50,297.80 93.80,294.90 98.90,292.40 108.50,279.10 120.80,297.20 134.90,306.60 154.10,299.20 167.90,296.50 177.30,304.90" fill="none" stroke="#111" stroke-width="0.9"/>
<path d="M58.10,301.40 L61.70,305.00 L58.10,308.60 L54.50,305.00 Z" fill="#000"/>
<path d="M62.90,293.10 L66.50,296.70 L62.90,300.30 L59.30,296.70 Z" fill="#000"/>
<path d="M71.00,295.80 L74.60,299.40 L71.00,303.00 L67.40,299.40 Z" fill="#000"/>
<path d="M76.00,293.40 L79.60,297.00 L76.00,300.60 L72.40,297.00 Z" fill="#000"/>
<path d="M91.50,294.20 L95.10,297.80 L91.50,301.40 L87.90,297.80 Z" fill="#000"/>
<path d="M93.80,291.30 L97.40,294.90 L93.80,298.50 L90.20,294.90 Z" fill="#000"/>
<path d="M98.90,288.80 L102.50,292.40 L98.90,296.00 L95.30,292.40 Z" fill="#000"/>
<path d="M108.50,275.50 L112.10,279.10 L108.50,282.70 L104.90,279.10 Z" fill="#000"/>
<path d="M120.80,293.60 L124.40,297.20 L120.80,300.80 L117.20,297.20 Z" fill="#000"/>
<path d="M134.90,303.00 L138.50,306.60 L134.90,310.20 L131.30,306.60 Z" fill="#000"/>
<path d="M154.10,295.60 L157.70,299.20 L154.10,302.80 L150.50,299.20 Z" fill="#000"/>
<path d="M167.90,292.90 L171.50,296.50 L167.90,300.10 L164.30,296.50 Z" fill="#000"/>
<path d="M177.30,301.30 L180.90,304.90 L177.30,308.50 L173.70,304.90 Z" fill="#000"/>
<polyline points="53.20,299.20 62.70,296.80 66.20,288.40 68.30,291.90 78.60,295.90 85.00,286.50 88.20,287.60 105.70,289.30 109.00,285.70 125.50,292.50 149.40,295.50 165.60,290.90 179.60,288.50" fill="none" stroke="#111" stroke-width="0.9"/>
<polyline points="204.20,285.70 207.30,285.40 213.50,283.50" fill="none" stroke="#111" stroke-width="0.9"/>
<circle cx="53.20" cy="299.20" r="3.00" fill="#000"/>
<circle cx="62.70" cy="296.80" r="3.00" fill="#000"/>
<circle cx="66.20" cy="288.40" r="3.00" fill="#000"/>
<circle cx="68.30" cy="291.90" r="3.00" fill="#000"/>
<circle cx="78.60" cy="295.90" r="3.00" fill="#000"/>
<circle cx="85.00" cy="286.50" r="3.00" fill="#000"/>
<circle cx="88.20" cy="287.60" r="3.00" fill="#000"/>
<circle cx="105.70" cy="289.30" r="3.00" fill="#000"/>
<circle cx="109.00" cy="285.70" r="3.00" fill="#000"/>
<circle cx="125.50" cy="292.50" r="3.00" fill="#000"/>
<circle cx="149.40" cy="295.50" r="3.00" fill="#000"/>
<circle cx="165.60" cy="290.90" r="3.00" fill="#000"/>
<circle cx="204.20" cy="285.70" r="3.00" fill="#000"/>
<circle cx="207.30" cy="285.40" r="3.00" fill="#000"/>
<circle cx="213.50" cy="283.50" r="3.00" fill="#000"/>
<polyline points="58.60,308.60 62.70,299.90 65.60,304.20 68.90,308.20 71.60,304.60 75.30,308.20 80.20,304.20 83.60,301.10 87.90,301.90 90.40,305.70 93.80,307.60 97.20,303.40 101.10,300.30 104.20,296.10 114.00,304.30 130.20,305.70 150.10,301.90 160.90,297.60 179.60,299.00" fill="none" stroke="#111" stroke-width="0.9"/>
<polyline points="204.20,293.80 207.00,307.20 213.80,319.50 218.10,309.70 224.20,302.00" fill="none" stroke="#111" stroke-width="0.9"/>
<circle cx="58.60" cy="308.60" r="2.60" fill="#fff" stroke="#000" stroke-width="0.9"/>
<circle cx="62.70" cy="299.90" r="2.60" fill="#fff" stroke="#000" stroke-width="0.9"/>
<circle cx="65.60" cy="304.20" r="2.60" fill="#fff" stroke="#000" stroke-width="0.9"/>
<circle cx="68.90" cy="308.20" r="2.60" fill="#fff" stroke="#000" stroke-width="0.9"/>
<circle cx="71.60" cy="304.60" r="2.60" fill="#fff" stroke="#000" stroke-width="0.9"/>
<circle cx="75.30" cy="308.20" r="2.60" fill="#fff" stroke="#000" stroke-width="0.9"/>
<circle cx="80.20" cy="304.20" r="2.60" fill="#fff" stroke="#000" stroke-width="0.9"/>
<circle cx="83.60" cy="301.10" r="2.60" fill="#fff" stroke="#000" stroke-width="0.9"/>
<circle cx="87.90" cy="301.90" r="2.60" fill="#fff" stroke="#000" stroke-width="0.9"/>
<circle cx="90.40" cy="305.70" r="2.60" fill="#fff" stroke="#000" stroke-width="0.9"/>
<circle cx="93.80" cy="307.60" r="2.60" fill="#fff" stroke="#000" stroke-width="0.9"/>
<circle cx="97.20" cy="303.40" r="2.60" fill="#fff" stroke="#000" stroke-width="0.9"/>
<circle cx="101.10" cy="300.30" r="2.60" fill="#fff" stroke="#000" stroke-width="0.9"/>
<circle cx="104.20" cy="296.10" r="2.60" fill="#fff" stroke="#000" stroke-width="0.9"/>
<circle cx="114.00" cy="304.30" r="2.60" fill="#fff" stroke="#000" stroke-width="0.9"/>
<circle cx="130.20" cy="305.70" r="2.60" fill="#fff" stroke="#000" stroke-width="0.9"/>
<circle cx="150.10" cy="301.90" r="2.60" fill="#fff" stroke="#000" stroke-width="0.9"/>
<circle cx="160.90" cy="297.60" r="2.60" fill="#fff" stroke="#000" stroke-width="0.9"/>
<circle cx="204.20" cy="293.80" r="2.60" fill="#fff" stroke="#000" stroke-width="0.9"/>
<circle cx="207.00" cy="307.20" r="2.60" fill="#fff" stroke="#000" stroke-width="0.9"/>
<circle cx="213.80" cy="319.50" r="2.60" fill="#fff" stroke="#000" stroke-width="0.9"/>
<circle cx="218.10" cy="309.70" r="2.60" fill="#fff" stroke="#000" stroke-width="0.9"/>
<circle cx="224.20" cy="302.00" r="2.60" fill="#fff" stroke="#000" stroke-width="0.9"/>
<polyline points="60.80,314.50 61.90,317.20 71.60,314.00 75.90,314.30 79.10,312.40 83.60,310.70 88.20,309.30 92.10,313.00 94.90,315.20 100.60,305.00 104.50,313.00 107.90,309.60 126.20,308.40 163.60,314.00 172.20,308.00 179.60,306.00" fill="none" stroke="#111" stroke-width="0.9"/>
<polyline points="201.50,302.60 208.10,310.30 213.80,313.10 220.40,316.90 226.10,310.30 232.20,316.20 239.30,317.40 243.50,295.40 249.60,305.40" fill="none" stroke="#111" stroke-width="0.9"/>
<rect x="58.00" y="311.70" width="5.60" height="5.60" fill="#000"/>
<rect x="59.10" y="314.40" width="5.60" height="5.60" fill="#000"/>
<rect x="68.80" y="311.20" width="5.60" height="5.60" fill="#000"/>
<rect x="73.10" y="311.50" width="5.60" height="5.60" fill="#000"/>
<rect x="76.30" y="309.60" width="5.60" height="5.60" fill="#000"/>
<rect x="80.80" y="307.90" width="5.60" height="5.60" fill="#000"/>
<rect x="85.40" y="306.50" width="5.60" height="5.60" fill="#000"/>
<rect x="89.30" y="310.20" width="5.60" height="5.60" fill="#000"/>
<rect x="92.10" y="312.40" width="5.60" height="5.60" fill="#000"/>
<rect x="97.80" y="302.20" width="5.60" height="5.60" fill="#000"/>
<rect x="101.70" y="310.20" width="5.60" height="5.60" fill="#000"/>
<rect x="105.10" y="306.80" width="5.60" height="5.60" fill="#000"/>
<rect x="123.40" y="305.60" width="5.60" height="5.60" fill="#000"/>
<rect x="160.80" y="311.20" width="5.60" height="5.60" fill="#000"/>
<rect x="169.40" y="305.20" width="5.60" height="5.60" fill="#000"/>
<rect x="198.70" y="299.80" width="5.60" height="5.60" fill="#000"/>
<rect x="205.30" y="307.50" width="5.60" height="5.60" fill="#000"/>
<rect x="211.00" y="310.30" width="5.60" height="5.60" fill="#000"/>
<rect x="217.60" y="314.10" width="5.60" height="5.60" fill="#000"/>
<rect x="223.30" y="307.50" width="5.60" height="5.60" fill="#000"/>
<rect x="229.40" y="313.40" width="5.60" height="5.60" fill="#000"/>
<rect x="236.50" y="314.60" width="5.60" height="5.60" fill="#000"/>
<rect x="240.70" y="292.60" width="5.60" height="5.60" fill="#000"/>
<rect x="246.80" y="302.60" width="5.60" height="5.60" fill="#000"/>
<line x1="312.20" y1="208.70" x2="519.50" y2="208.70" stroke="#2a2a2a" stroke-width="1" />
<line x1="519.00" y1="208.70" x2="519.00" y2="347.30" stroke="#2a2a2a" stroke-width="1" />
<line x1="316.00" y1="208.70" x2="316.00" y2="347.80" stroke="#2a2a2a" stroke-width="1" />
<line x1="312.20" y1="347.30" x2="316.00" y2="347.30" stroke="#2a2a2a" stroke-width="1" />
<text x="309.60" y="351.40" font-size="12.5" text-anchor="end" font-weight="normal" stroke="#000" stroke-width="0.15">0</text>
<line x1="314.00" y1="338.64" x2="316.00" y2="338.64" stroke="#2a2a2a" stroke-width="1" />
<line x1="314.00" y1="329.98" x2="316.00" y2="329.98" stroke="#2a2a2a" stroke-width="1" />
<line x1="314.00" y1="321.31" x2="316.00" y2="321.31" stroke="#2a2a2a" stroke-width="1" />
<line x1="312.20" y1="312.65" x2="316.00" y2="312.65" stroke="#2a2a2a" stroke-width="1" />
<text x="309.60" y="316.75" font-size="12.5" text-anchor="end" font-weight="normal" stroke="#000" stroke-width="0.15">200</text>
<line x1="314.00" y1="303.99" x2="316.00" y2="303.99" stroke="#2a2a2a" stroke-width="1" />
<line x1="314.00" y1="295.32" x2="316.00" y2="295.32" stroke="#2a2a2a" stroke-width="1" />
<line x1="314.00" y1="286.66" x2="316.00" y2="286.66" stroke="#2a2a2a" stroke-width="1" />
<line x1="312.20" y1="278.00" x2="316.00" y2="278.00" stroke="#2a2a2a" stroke-width="1" />
<text x="309.60" y="282.10" font-size="12.5" text-anchor="end" font-weight="normal" stroke="#000" stroke-width="0.15">400</text>
<line x1="314.00" y1="269.34" x2="316.00" y2="269.34" stroke="#2a2a2a" stroke-width="1" />
<line x1="314.00" y1="260.68" x2="316.00" y2="260.68" stroke="#2a2a2a" stroke-width="1" />
<line x1="314.00" y1="252.01" x2="316.00" y2="252.01" stroke="#2a2a2a" stroke-width="1" />
<line x1="312.20" y1="243.35" x2="316.00" y2="243.35" stroke="#2a2a2a" stroke-width="1" />
<text x="309.60" y="247.45" font-size="12.5" text-anchor="end" font-weight="normal" stroke="#000" stroke-width="0.15">600</text>
<line x1="314.00" y1="234.69" x2="316.00" y2="234.69" stroke="#2a2a2a" stroke-width="1" />
<line x1="314.00" y1="226.02" x2="316.00" y2="226.02" stroke="#2a2a2a" stroke-width="1" />
<line x1="314.00" y1="217.36" x2="316.00" y2="217.36" stroke="#2a2a2a" stroke-width="1" />
<line x1="312.20" y1="208.70" x2="316.00" y2="208.70" stroke="#2a2a2a" stroke-width="1" />
<text x="309.60" y="212.80" font-size="12.5" text-anchor="end" font-weight="normal" stroke="#000" stroke-width="0.15">800</text>
<line x1="316.00" y1="347.30" x2="442.70" y2="347.30" stroke="#2a2a2a" stroke-width="1" />
<line x1="464.30" y1="347.30" x2="519.00" y2="347.30" stroke="#2a2a2a" stroke-width="1" />
<line x1="324.60" y1="347.30" x2="324.60" y2="350.50" stroke="#2a2a2a" stroke-width="1" />
<text x="324.60" y="363.70" font-size="12.5" text-anchor="middle" font-weight="normal" stroke="#000" stroke-width="0.15">0</text>
<line x1="348.24" y1="347.30" x2="348.24" y2="349.30" stroke="#2a2a2a" stroke-width="1" />
<line x1="371.88" y1="347.30" x2="371.88" y2="350.50" stroke="#2a2a2a" stroke-width="1" />
<text x="371.88" y="363.70" font-size="12.5" text-anchor="middle" font-weight="normal" stroke="#000" stroke-width="0.15">100</text>
<line x1="395.52" y1="347.30" x2="395.52" y2="349.30" stroke="#2a2a2a" stroke-width="1" />
<line x1="419.16" y1="347.30" x2="419.16" y2="350.50" stroke="#2a2a2a" stroke-width="1" />
<text x="419.16" y="363.70" font-size="12.5" text-anchor="middle" font-weight="normal" stroke="#000" stroke-width="0.15">200</text>
<line x1="442.80" y1="347.30" x2="442.80" y2="349.30" stroke="#2a2a2a" stroke-width="1" />
<line x1="442.70" y1="345.90" x2="442.70" y2="349.30" stroke="#2a2a2a" stroke-width="1" />
<line x1="464.30" y1="347.30" x2="464.30" y2="350.50" stroke="#2a2a2a" stroke-width="1" />
<text x="464.30" y="363.70" font-size="12.5" text-anchor="middle" font-weight="normal" stroke="#000" stroke-width="0.15">300</text>
<line x1="486.05" y1="347.30" x2="486.05" y2="349.30" stroke="#2a2a2a" stroke-width="1" />
<line x1="507.80" y1="347.30" x2="507.80" y2="350.50" stroke="#2a2a2a" stroke-width="1" />
<text x="507.80" y="363.70" font-size="12.5" text-anchor="middle" font-weight="normal" stroke="#000" stroke-width="0.15">900</text>
<text x="376.50" y="385.30" font-size="13.5" text-anchor="start" font-weight="normal" textLength="88" lengthAdjust="spacingAndGlyphs" stroke="#000" stroke-width="0.3">Days post AAV</text>
<text transform="translate(277.10,351.60) rotate(-90)" font-size="14" font-weight="bold" textLength="142.90" lengthAdjust="spacingAndGlyphs">Anti-cFVIII IgG2 (ng/ml)</text>
<text x="266.40" y="195.70" font-size="18.2" text-anchor="start" font-weight="bold" stroke="#000" stroke-width="0.45">D</text>
<path d="M321.50,228.50 h4.6 v8.6 h2.2 l-4.5,4.8 l-4.5,-4.8 h2.2 z" fill="#000"/>
<line x1="414.80" y1="221.00" x2="423.20" y2="221.00" stroke="#000" stroke-width="0.8" />
<path d="M419.00,217.40 L422.60,221.00 L419.00,224.60 L415.40,221.00 Z" fill="#000"/>
<text x="427.50" y="223.50" font-size="9.8" text-anchor="start" font-weight="bold" textLength="70.6" lengthAdjust="spacingAndGlyphs">Otis (2E11 vg/kg)</text>
<line x1="414.80" y1="233.70" x2="423.20" y2="233.70" stroke="#000" stroke-width="0.8" />
<circle cx="419.00" cy="233.70" r="3.00" fill="#000"/>
<text x="427.50" y="236.20" font-size="9.8" text-anchor="start" font-weight="bold" textLength="70.8" lengthAdjust="spacingAndGlyphs">N25 (6E11 vg/kg)</text>
<line x1="414.80" y1="246.40" x2="423.20" y2="246.40" stroke="#000" stroke-width="0.8" />
<circle cx="419.00" cy="246.40" r="2.60" fill="#fff" stroke="#000" stroke-width="0.9"/>
<text x="427.50" y="248.90" font-size="9.8" text-anchor="start" font-weight="bold" textLength="71.2" lengthAdjust="spacingAndGlyphs">N22 (2E12 vg/kg)</text>
<line x1="414.80" y1="259.10" x2="423.20" y2="259.10" stroke="#000" stroke-width="0.8" />
<rect x="416.20" y="256.30" width="5.60" height="5.60" fill="#000"/>
<text x="427.50" y="261.60" font-size="9.8" text-anchor="start" font-weight="bold" textLength="83.4" lengthAdjust="spacingAndGlyphs">N24 (4.95E13 vg/kg)</text>
<polyline points="316.50,347.30 324.20,347.30 333.00,347.30 342.60,347.30 354.60,347.30 368.60,347.30 384.50,347.30 398.30,347.30 431.60,347.30 441.40,347.30" fill="none" stroke="#111" stroke-width="0.9"/>
<path d="M316.50,343.70 L320.10,347.30 L316.50,350.90 L312.90,347.30 Z" fill="#000"/>
<path d="M324.20,343.70 L327.80,347.30 L324.20,350.90 L320.60,347.30 Z" fill="#000"/>
<path d="M333.00,343.70 L336.60,347.30 L333.00,350.90 L329.40,347.30 Z" fill="#000"/>
<path d="M342.60,343.70 L346.20,347.30 L342.60,350.90 L339.00,347.30 Z" fill="#000"/>
<path d="M354.60,343.70 L358.20,347.30 L354.60,350.90 L351.00,347.30 Z" fill="#000"/>
<path d="M368.60,343.70 L372.20,347.30 L368.60,350.90 L365.00,347.30 Z" fill="#000"/>
<path d="M384.50,343.70 L388.10,347.30 L384.50,350.90 L380.90,347.30 Z" fill="#000"/>
<path d="M398.30,343.70 L401.90,347.30 L398.30,350.90 L394.70,347.30 Z" fill="#000"/>
<path d="M431.60,343.70 L435.20,347.30 L431.60,350.90 L428.00,347.30 Z" fill="#000"/>
<path d="M441.40,343.70 L445.00,347.30 L441.40,350.90 L437.80,347.30 Z" fill="#000"/>
<polyline points="321.60,347.30 326.70,347.30 330.50,347.30 339.40,347.30 350.80,347.30 365.40,347.30 389.10,347.30" fill="none" stroke="#111" stroke-width="0.9"/>
<polyline points="465.80,347.30 468.60,322.70 471.00,347.30" fill="none" stroke="#111" stroke-width="0.9"/>
<circle cx="321.60" cy="347.30" r="3.00" fill="#000"/>
<circle cx="326.70" cy="347.30" r="3.00" fill="#000"/>
<circle cx="330.50" cy="347.30" r="3.00" fill="#000"/>
<circle cx="339.40" cy="347.30" r="3.00" fill="#000"/>
<circle cx="350.80" cy="347.30" r="3.00" fill="#000"/>
<circle cx="365.40" cy="347.30" r="3.00" fill="#000"/>
<circle cx="389.10" cy="347.30" r="3.00" fill="#000"/>
<circle cx="465.80" cy="347.30" r="3.00" fill="#000"/>
<circle cx="468.60" cy="322.70" r="3.00" fill="#000"/>
<circle cx="471.00" cy="347.30" r="3.00" fill="#000"/>
<polyline points="329.20,343.90 336.20,347.30 377.50,347.30 413.60,347.30 424.40,347.30" fill="none" stroke="#111" stroke-width="0.9"/>
<polyline points="469.00,347.30 477.20,347.30 481.50,347.30 488.30,347.30" fill="none" stroke="#111" stroke-width="0.9"/>
<circle cx="329.20" cy="343.90" r="2.60" fill="#fff" stroke="#000" stroke-width="0.9"/>
<circle cx="336.20" cy="347.30" r="2.60" fill="#fff" stroke="#000" stroke-width="0.9"/>
<circle cx="377.50" cy="347.30" r="2.60" fill="#fff" stroke="#000" stroke-width="0.9"/>
<circle cx="413.60" cy="347.30" r="2.60" fill="#fff" stroke="#000" stroke-width="0.9"/>
<circle cx="424.40" cy="347.30" r="2.60" fill="#fff" stroke="#000" stroke-width="0.9"/>
<circle cx="469.00" cy="347.30" r="2.60" fill="#fff" stroke="#000" stroke-width="0.9"/>
<circle cx="477.20" cy="347.30" r="2.60" fill="#fff" stroke="#000" stroke-width="0.9"/>
<circle cx="481.50" cy="347.30" r="2.60" fill="#fff" stroke="#000" stroke-width="0.9"/>
<circle cx="488.30" cy="347.30" r="2.60" fill="#fff" stroke="#000" stroke-width="0.9"/>
<polyline points="325.00,347.30 331.30,249.40 338.50,258.00 351.10,311.90 364.20,317.30 390.20,343.00 427.00,325.70 443.40,334.60" fill="none" stroke="#111" stroke-width="0.9"/>
<polyline points="464.60,345.20 472.20,336.60 483.70,343.00 489.90,333.30 503.00,347.10 507.40,347.10 513.50,338.00" fill="none" stroke="#111" stroke-width="0.9"/>
<rect x="322.20" y="344.50" width="5.60" height="5.60" fill="#000"/>
<rect x="328.50" y="246.60" width="5.60" height="5.60" fill="#000"/>
<rect x="335.70" y="255.20" width="5.60" height="5.60" fill="#000"/>
<rect x="348.30" y="309.10" width="5.60" height="5.60" fill="#000"/>
<rect x="361.40" y="314.50" width="5.60" height="5.60" fill="#000"/>
<rect x="387.40" y="340.20" width="5.60" height="5.60" fill="#000"/>
<rect x="424.20" y="322.90" width="5.60" height="5.60" fill="#000"/>
<rect x="461.80" y="342.40" width="5.60" height="5.60" fill="#000"/>
<rect x="469.40" y="333.80" width="5.60" height="5.60" fill="#000"/>
<rect x="480.90" y="340.20" width="5.60" height="5.60" fill="#000"/>
<rect x="487.10" y="330.50" width="5.60" height="5.60" fill="#000"/>
<rect x="500.20" y="344.30" width="5.60" height="5.60" fill="#000"/>
<rect x="504.60" y="344.30" width="5.60" height="5.60" fill="#000"/>
<rect x="510.70" y="335.20" width="5.60" height="5.60" fill="#000"/>
</svg></body></html>
